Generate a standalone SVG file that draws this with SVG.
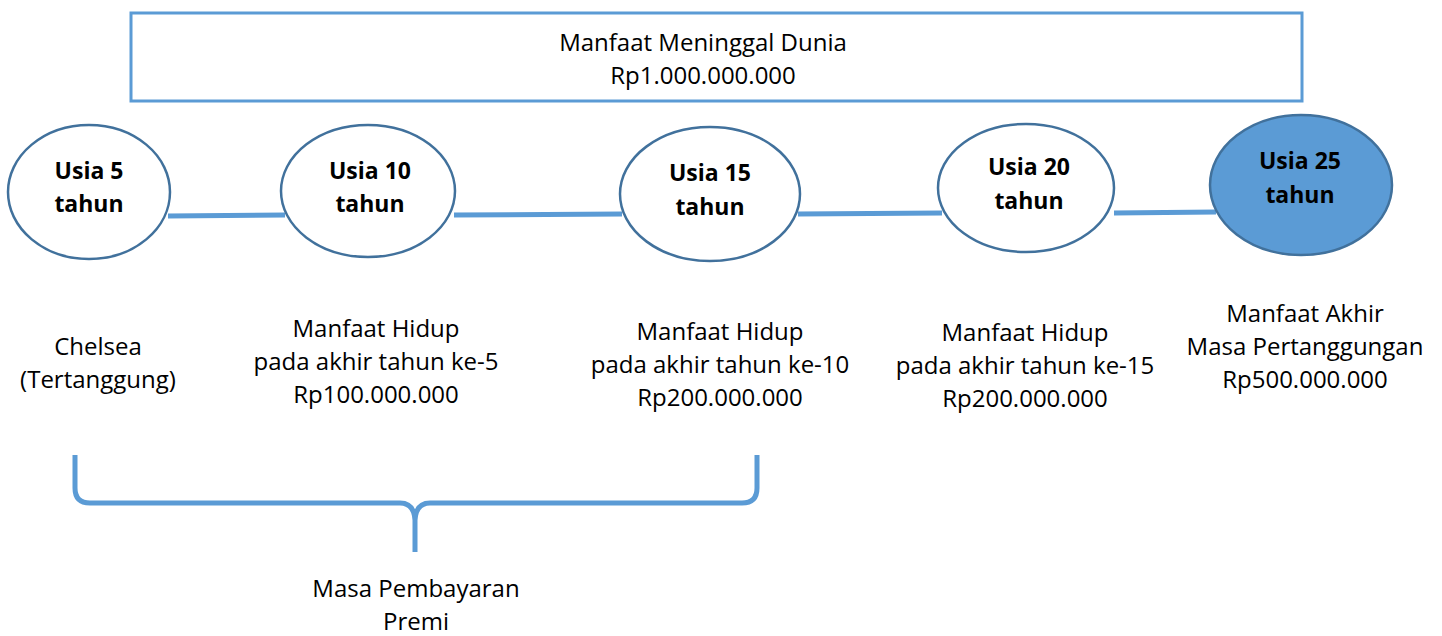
<svg xmlns="http://www.w3.org/2000/svg" width="1442" height="636" viewBox="0 0 1442 636">
<style>
.t{font-family:"Open Sans","Liberation Sans",sans-serif;font-size:24px;fill:#000;text-anchor:middle}
.b{font-family:"Open Sans","Liberation Sans",sans-serif;font-size:23px;font-weight:bold;fill:#000;text-anchor:middle}
.node{fill:#fff;stroke:#41719C;stroke-width:2.5}
.final{fill:#5B9BD5;stroke:#41719C;stroke-width:2.5}
.conn{stroke:#5B9BD5;stroke-width:5;fill:none}
</style>
<rect width="1442" height="636" fill="#fff"/>
<g id="top-box">
<rect x="131" y="13" width="1171" height="88" fill="#fff" stroke="#5B9BD5" stroke-width="3"/>
<text class="t" x="703" y="51">Manfaat Meninggal Dunia</text>
<text class="t" x="703" y="84">Rp1.000.000.000</text>
</g>
<g id="connectors">
<line class="conn" x1="168" y1="216" x2="285" y2="215"/>
<line class="conn" x1="454" y1="215" x2="622" y2="214"/>
<line class="conn" x1="798" y1="214" x2="942" y2="213"/>
<line class="conn" x1="1114" y1="213" x2="1216" y2="212"/>
<path class="conn" d="M75,455 L75,488 Q75,503 90,503 L400,503 Q414,503 415,520 L415,552 M415,520 Q416,503 430,503 L742,503 Q757,503 757,488 L757,455"/>
</g>
<g id="node-usia5">
<ellipse class="node" cx="89" cy="192" rx="81" ry="67"/>
<text class="b" x="89" y="179">Usia 5</text>
<text class="b" x="89" y="212">tahun</text>
</g>
<g id="node-usia10">
<ellipse class="node" cx="368" cy="191" rx="87" ry="66"/>
<text class="b" x="370" y="179">Usia 10</text>
<text class="b" x="370" y="212">tahun</text>
</g>
<g id="node-usia15">
<ellipse class="node" cx="710" cy="194" rx="90" ry="67"/>
<text class="b" x="710" y="181">Usia 15</text>
<text class="b" x="710" y="215">tahun</text>
</g>
<g id="node-usia20">
<ellipse class="node" cx="1026" cy="188" rx="88" ry="64"/>
<text class="b" x="1029" y="175">Usia 20</text>
<text class="b" x="1029" y="209">tahun</text>
</g>
<g id="node-usia25">
<ellipse class="final" cx="1301" cy="185" rx="91" ry="70"/>
<text class="b" x="1300" y="169">Usia 25</text>
<text class="b" x="1300" y="203">tahun</text>
</g>
<g id="label-chelsea">
<text class="t" x="98" y="355">Chelsea</text>
<text class="t" x="98" y="388">(Tertanggung)</text>
</g>
<g id="label-5">
<text class="t" x="376" y="337">Manfaat Hidup</text>
<text class="t" x="376" y="370">pada akhir tahun ke-5</text>
<text class="t" x="376" y="403">Rp100.000.000</text>
</g>
<g id="label-10">
<text class="t" x="720" y="340">Manfaat Hidup</text>
<text class="t" x="720" y="373">pada akhir tahun ke-10</text>
<text class="t" x="720" y="406">Rp200.000.000</text>
</g>
<g id="label-15">
<text class="t" x="1025" y="341">Manfaat Hidup</text>
<text class="t" x="1025" y="374">pada akhir tahun ke-15</text>
<text class="t" x="1025" y="407">Rp200.000.000</text>
</g>
<g id="label-25">
<text class="t" x="1305" y="322">Manfaat Akhir</text>
<text class="t" x="1305" y="355">Masa Pertanggungan</text>
<text class="t" x="1305" y="388">Rp500.000.000</text>
</g>
<g id="label-premi">
<text class="t" x="416" y="597">Masa Pembayaran</text>
<text class="t" x="416" y="630">Premi</text>
</g>
</svg>
